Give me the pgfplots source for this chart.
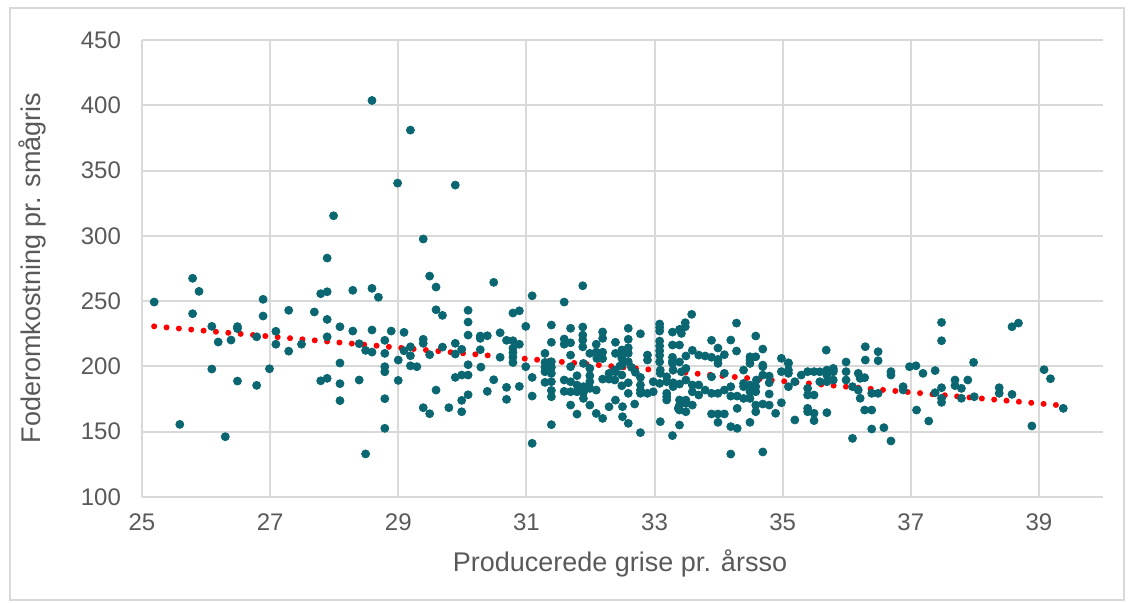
\documentclass[border=0pt]{standalone}
\usepackage{fontspec}
\setmainfont{Liberation Sans}
\usepackage{pgfplots}
\usepackage{pgfplotstable}
\pgfplotsset{compat=1.18}
\definecolor{dotteal}{HTML}{0A6670}
\definecolor{gridgray}{HTML}{D9D9D9}
\definecolor{txtgray}{HTML}{595959}
\pgfplotstableread{
x y
25.19 249.3
25.59 155.6
25.79 267.5
25.89 257.5
25.79 240.4
26.09 230.7
26.19 218.7
26.39 220.2
26.49 230.5
26.49 229.0
26.79 222.7
26.89 251.4
26.89 238.6
27.09 226.9
27.09 217.0
27.29 243.0
27.29 211.7
27.49 217.0
27.69 241.7
27.79 255.7
27.89 257.2
27.89 283.0
27.89 236.0
27.89 222.7
28.09 230.4
28.29 258.3
28.29 227.1
28.39 217.4
28.49 212.3
28.59 211.0
28.59 259.8
28.59 227.9
28.69 253.0
26.30 146.2
26.09 198.0
26.49 188.8
26.79 185.5
26.99 198.2
27.79 189.0
27.89 190.9
28.09 202.6
28.09 186.8
28.09 173.8
28.39 189.6
28.49 133.0
28.59 403.7
29.19 381.0
28.99 340.4
29.89 338.9
27.99 315.4
29.39 297.6
29.49 269.2
29.59 260.8
30.49 264.4
31.09 254.1
31.88 261.8
31.59 249.3
29.59 243.4
29.69 239.1
30.09 243.0
30.09 234.0
30.09 224.0
30.79 240.9
30.89 242.6
30.99 230.7
28.89 227.1
28.79 220.0
29.09 226.1
29.39 220.8
29.39 217.7
28.79 210.0
29.09 212.0
29.19 215.0
29.19 208.2
29.49 209.0
29.69 214.8
29.89 217.7
29.89 209.5
29.99 213.1
30.28 223.3
30.28 221.5
30.39 223.5
30.28 212.8
30.59 225.8
30.69 220.0
30.79 219.7
30.79 214.0
30.79 210.6
30.79 207.1
30.79 203.0
30.89 217.0
30.59 207.0
31.29 210.0
31.39 231.7
31.39 218.5
31.59 221.0
31.59 217.0
31.69 229.2
31.69 218.1
31.88 230.2
31.88 224.0
31.88 220.2
31.88 215.0
31.99 210.0
32.09 217.0
32.09 211.0
32.19 226.4
32.19 221.5
32.19 210.9
32.19 206.0
32.39 218.5
32.39 210.0
28.79 199.8
28.79 195.9
29.00 204.9
29.00 189.3
29.19 200.5
29.29 199.8
28.79 175.3
28.79 152.6
29.59 181.9
29.39 168.4
29.49 163.8
29.79 168.4
29.89 191.6
29.99 193.4
30.09 193.4
30.09 201.3
29.99 174.0
29.99 165.3
30.09 178.3
30.29 199.5
30.39 180.9
30.49 189.8
30.69 184.0
30.69 174.8
30.89 184.7
30.99 199.8
31.09 191.6
31.09 177.3
31.09 141.1
31.39 155.4
31.29 187.8
31.39 188.3
31.39 181.6
31.39 176.8
31.29 199.3
31.39 199.3
31.39 194.7
31.29 195.9
31.39 203.6
31.29 203.1
31.59 180.9
31.69 180.6
31.69 170.4
31.79 180.6
31.79 192.9
31.79 185.7
31.79 163.5
31.89 184.5
31.89 179.9
31.89 175.5
31.99 192.9
31.99 188.3
31.99 183.2
31.99 170.4
32.09 181.9
32.09 164.0
32.19 190.3
32.19 160.2
32.29 194.7
32.29 190.3
32.29 169.1
32.38 197.2
32.38 189.6
31.59 189.6
31.69 208.7
31.69 199.8
31.69 188.3
31.89 202.3
31.99 198.5
32.10 206.1
32.39 195.9
32.39 174.2
32.49 206.1
32.49 201.0
32.69 171.2
33.08 187.0
33.19 192.1
33.19 176.8
33.28 202.3
33.37 167.9
33.29 197.2
33.58 239.9
33.48 233.5
33.48 230.4
33.39 228.4
33.28 226.3
33.08 232.5
33.08 229.9
33.08 227.1
33.08 219.4
33.08 215.7
33.08 212.0
33.08 208.5
33.08 203.5
33.28 216.4
33.39 216.4
33.28 207.0
33.28 204.0
33.39 203.4
33.59 212.3
33.49 208.0
33.69 208.7
33.79 208.0
33.89 207.0
33.99 205.4
34.09 209.0
33.89 220.0
33.99 214.1
34.19 220.2
34.28 233.2
34.28 211.8
34.58 223.3
34.69 213.3
34.49 207.4
34.58 207.4
34.98 206.2
35.09 202.8
35.68 212.5
35.99 203.4
32.59 229.2
32.59 220.8
32.78 225.0
32.59 214.3
32.59 210.0
32.49 212.6
32.89 208.7
32.89 204.9
32.49 207.4
32.59 203.6
34.49 204.9
34.69 201.0
32.46 200.3
32.64 199.3
32.49 193.4
32.49 185.2
32.59 187.5
32.59 179.4
32.70 195.5
32.78 191.6
32.78 185.8
32.78 181.9
32.78 179.4
32.89 179.4
32.98 188.3
32.98 180.6
33.09 194.7
33.09 197.2
33.19 188.3
33.19 179.4
33.19 174.3
33.29 187.5
33.29 184.5
33.39 186.5
33.39 174.3
33.39 170.4
33.39 166.6
33.49 171.7
33.49 165.3
33.59 170.4
33.59 185.8
33.59 180.6
33.69 185.8
33.69 178.1
33.79 181.9
33.89 179.4
33.99 179.4
33.99 202.3
34.09 194.7
34.19 184.5
34.19 177.3
34.29 177.3
34.29 167.9
34.39 175.5
34.39 197.2
34.39 187.0
34.39 184.5
34.49 202.3
34.49 175.5
34.49 185.8
34.49 180.6
34.58 184.5
34.58 180.6
34.58 170.4
34.58 165.3
34.69 199.8
34.69 171.2
34.79 187.5
34.79 178.9
34.79 170.4
34.89 164.1
34.98 196.0
34.98 172.2
35.09 202.3
35.09 194.7
35.09 184.5
35.19 188.3
35.19 159.0
35.29 193.4
35.39 196.0
35.39 183.2
35.39 178.1
35.39 167.9
35.39 165.3
35.49 196.0
35.49 178.1
35.49 164.1
35.49 158.5
35.58 188.3
35.69 197.2
35.69 164.6
35.79 197.2
35.79 189.6
35.99 196.0
35.99 189.6
36.09 184.5
36.18 181.9
36.18 194.7
36.09 144.9
32.50 169.2
32.50 161.5
32.59 156.4
32.78 149.3
33.09 157.7
33.28 147.0
33.39 155.1
33.89 163.6
33.99 163.6
34.09 163.6
33.99 157.2
34.19 153.9
34.29 152.6
34.49 157.2
34.19 132.9
34.69 134.5
33.42 225.3
33.42 195.9
33.49 198.5
33.49 189.6
33.49 174.2
33.89 192.1
34.09 181.9
34.59 189.6
34.69 193.4
34.79 192.6
35.09 197.2
35.58 195.9
35.69 193.4
35.69 188.3
35.79 198.5
35.79 195.9
36.29 215.1
36.29 204.9
36.49 211.3
36.49 204.4
36.98 199.8
37.08 200.5
37.48 233.7
37.48 219.7
37.98 203.1
38.58 230.4
38.68 233.2
36.21 190.9
36.28 191.4
36.21 175.6
36.28 166.6
36.39 166.6
36.39 179.4
36.49 179.4
36.39 152.1
36.58 153.1
36.69 142.9
36.69 196.0
36.69 193.4
36.88 184.5
36.88 182.0
37.19 194.7
37.09 166.6
37.28 158.2
37.38 196.8
37.38 179.9
37.48 183.7
37.48 175.6
37.48 172.5
37.69 189.6
37.69 185.3
37.79 183.2
37.79 175.6
37.89 189.6
37.99 176.8
38.38 183.7
38.38 179.4
38.58 178.6
38.89 154.4
39.08 197.5
39.18 190.6
39.38 167.9
}\scatterdata
\begin{document}
\begin{tikzpicture}
\useasboundingbox (-71pt,-52.5pt) rectangle (495pt,248.5pt);
\draw[gridgray, line width=0.8pt] (-66pt,-51.5pt) rectangle (491pt,244.5pt);
\begin{axis}[
  at={(0pt,0pt)}, anchor=south west,
  scale only axis, width=480.5pt, height=228.5pt,
  xmin=25, xmax=40, ymin=100, ymax=450,
  xtick={25,27,...,39}, ytick={100,150,...,450},
  grid=major, major grid style={gridgray, line width=1pt},
  axis line style={draw=none},
  major tick length=0pt,
  tick label style={font=\fontsize{12}{14}\selectfont, text=txtgray},
  /pgf/number format/assume math mode=true,
  xticklabel style={yshift=-5pt},
  yticklabel style={xshift=-7pt},
  xlabel={Producerede grise pr. årsso},
  ylabel={Foderomkostning pr. smågris},
  label style={font=\fontsize{13.5}{16}\selectfont, text=txtgray},
  xlabel style={at={(axis description cs:0.4974,-0.1444)}, anchor=center},
  ylabel style={at={(axis description cs:-0.1145,0.501)}, anchor=center, rotate=0},
  clip=false,
]
\addplot[only marks, color=dotteal, mark=*, mark size=2pt, mark options={fill=dotteal, draw=none}] table {\scatterdata};
\addplot[red, line width=3pt, line cap=round, dash pattern=on 0pt off 6.2pt] coordinates {(25.19,230.7) (39.38,170.0)};
\end{axis}
\end{tikzpicture}
\end{document}
